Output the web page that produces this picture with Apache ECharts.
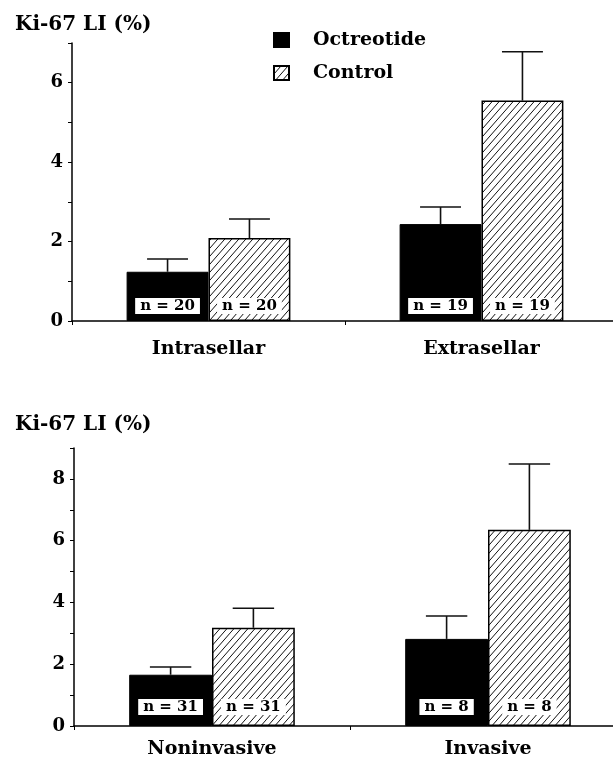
<!DOCTYPE html>
<html>
<head>
<meta charset="utf-8">
<script src="https://cdn.jsdelivr.net/npm/echarts@6/dist/echarts.min.js"></script>
<style>
  html, body { margin: 0; padding: 0; background: #fff; }
  #main { width: 613px; height: 759px; }
</style>
</head>
<body>
<div id="main"></div>
<script>
// 数据
var catTop = ['Intrasellar', 'Extrasellar'];
var octTop = [1.24, 2.44];
var octTopSE = [0.32, 0.43];
var ctrlTop = [2.09, 5.55];
var ctrlTopSE = [0.48, 1.23];
var nTop = [20, 19];

var catBottom = ['Noninvasive', 'Invasive'];
var octBottom = [1.66, 2.82];
var octBottomSE = [0.25, 0.74];
var ctrlBottom = [3.18, 6.35];
var ctrlBottomSE = [0.63, 2.13];
var nBottom = [31, 8];

var yTicksTop = [0, 2, 4, 6];
var yTicksBottom = [0, 2, 4, 6, 8];

var FONT = 'DejaVu Serif';

// 斜线填充
function hatch () {
  var w = 7, h = 8;
  var c = document.createElement('canvas');
  c.width = w;
  c.height = h;
  var ctx = c.getContext('2d');
  ctx.fillStyle = '#fff';
  ctx.fillRect(0, 0, w, h);
  ctx.strokeStyle = '#111';
  ctx.lineWidth = 1;
  for (var k = -1; k <= 1; k++) {
    ctx.beginPath();
    ctx.moveTo(k * w, h);
    ctx.lineTo(k * w + w, 0);
    ctx.stroke();
  }
  return { image: c, repeat: 'repeat' };
}
var hatchFill = hatch();

function yAxisOf (gridIndex, max, ticks) {
  return {
    type: 'value',
    gridIndex: gridIndex,
    min: 0,
    max: max,
    interval: 1,
    axisLine: { show: true, lineStyle: { color: '#000', width: 1.5 } },
    axisTick: { show: true, length: 4, lineStyle: { color: '#000', width: 1 } },
    splitLine: { show: false },
    axisLabel: {
      margin: 9,
      color: '#000',
      fontFamily: FONT,
      fontWeight: 'bold',
      fontSize: 18,
      formatter: function (v) {
        return ticks.indexOf(v) >= 0 ? v : '';
      }
    }
  };
}

function xAxisOf (gridIndex, cats, margin) {
  return {
    type: 'category',
    gridIndex: gridIndex,
    data: cats,
    axisLine: { show: true, lineStyle: { color: '#000', width: 1.5 } },
    axisTick: { show: true, length: 4, lineStyle: { color: '#000' } },
    axisLabel: {
      margin: margin,
      color: '#000',
      fontFamily: FONT,
      fontWeight: 'bold',
      fontSize: 19
    }
  };
}

function barLabel (nArr, boxed, dist) {
  return {
    show: true,
    position: 'insideBottom',
    distance: dist,
    formatter: function (p) {
      return 'n = ' + nArr[p.dataIndex];
    },
    color: '#000',
    fontFamily: FONT,
    fontWeight: 'bold',
    fontSize: 15,
    lineHeight: 16,
    backgroundColor: '#fff',
    borderColor: boxed ? '#000' : 'transparent',
    borderWidth: boxed ? 1 : 0,
    padding: [0, 5]
  };
}

// 误差线
function errSeries (gridIndex, mean, se, side) {
  var data = mean.map(function (m, i) {
    return [i, m, m + se[i]];
  });
  return {
    type: 'custom',
    xAxisIndex: gridIndex,
    yAxisIndex: gridIndex,
    silent: true,
    z: 5,
    data: data,
    encode: { x: 0, y: [1, 2] },
    renderItem: function (params, api) {
      var band = api.size([1, 0])[0];
      var barW = band * 0.3;
      var p1 = api.coord([api.value(0), api.value(1)]);
      var p2 = api.coord([api.value(0), api.value(2)]);
      var cx = p1[0] + side * barW / 2;
      var half = barW / 4;
      var style = { stroke: '#111', lineWidth: 1.6 };
      return {
        type: 'group',
        children: [
          { type: 'line', shape: { x1: cx, y1: p1[1], x2: cx, y2: p2[1] }, style: style },
          { type: 'line', shape: { x1: cx - half, y1: p2[1], x2: cx + half, y2: p2[1] }, style: style }
        ]
      };
    }
  };
}

var myChart = echarts.init(document.getElementById('main'));
myChart.setOption({
  backgroundColor: '#fff',
  animation: false,
  title: [
    { text: 'Ki-67 LI (%)', left: 10, top: 10,
      textStyle: { fontFamily: FONT, fontWeight: 'bold', fontSize: 20, color: '#000' } },
    { text: 'Ki-67 LI (%)', left: 10, top: 410,
      textStyle: { fontFamily: FONT, fontWeight: 'bold', fontSize: 20, color: '#000' } }
  ],
  legend: {
    orient: 'vertical',
    left: 273,
    top: 30,
    padding: 0,
    itemWidth: 15,
    itemHeight: 14,
    itemGap: 13,
    icon: 'rect',
    textStyle: {
      fontFamily: FONT,
      fontWeight: 'bold',
      fontSize: 19,
      lineHeight: 20,
      color: '#000',
      padding: [0, 0, 0, 19]
    },
    data: ['Octreotide', 'Control']
  },
  grid: [
    { left: 72, top: 43, width: 546, height: 278, outerBoundsMode: 'none' },
    { left: 74, top: 448, width: 552, height: 278, outerBoundsMode: 'none' }
  ],
  xAxis: [xAxisOf(0, catTop, 19), xAxisOf(1, catBottom, 14)],
  yAxis: [yAxisOf(0, 7, yTicksTop), yAxisOf(1, 9, yTicksBottom)],
  series: [
    {
      name: 'Octreotide', type: 'bar', xAxisIndex: 0, yAxisIndex: 0,
      barGap: 0, barCategoryGap: '40%',
      itemStyle: { color: '#000', borderColor: '#000', borderWidth: 1 },
      label: barLabel(nTop, true, 7),
      data: octTop
    },
    {
      name: 'Control', type: 'bar', xAxisIndex: 0, yAxisIndex: 0,
      barGap: 0, barCategoryGap: '40%',
      itemStyle: { color: hatchFill, borderColor: '#000', borderWidth: 1.5 },
      label: barLabel(nTop, false, 7),
      data: ctrlTop
    },
    {
      name: 'Octreotide', type: 'bar', xAxisIndex: 1, yAxisIndex: 1,
      barGap: 0, barCategoryGap: '40%',
      itemStyle: { color: '#000', borderColor: '#000', borderWidth: 1 },
      label: barLabel(nBottom, true, 11),
      data: octBottom
    },
    {
      name: 'Control', type: 'bar', xAxisIndex: 1, yAxisIndex: 1,
      barGap: 0, barCategoryGap: '40%',
      itemStyle: { color: hatchFill, borderColor: '#000', borderWidth: 1.5 },
      label: barLabel(nBottom, false, 11),
      data: ctrlBottom
    },
    errSeries(0, octTop, octTopSE, -1),
    errSeries(0, ctrlTop, ctrlTopSE, 1),
    errSeries(1, octBottom, octBottomSE, -1),
    errSeries(1, ctrlBottom, ctrlBottomSE, 1)
  ]
});
</script>
</body>
</html>
